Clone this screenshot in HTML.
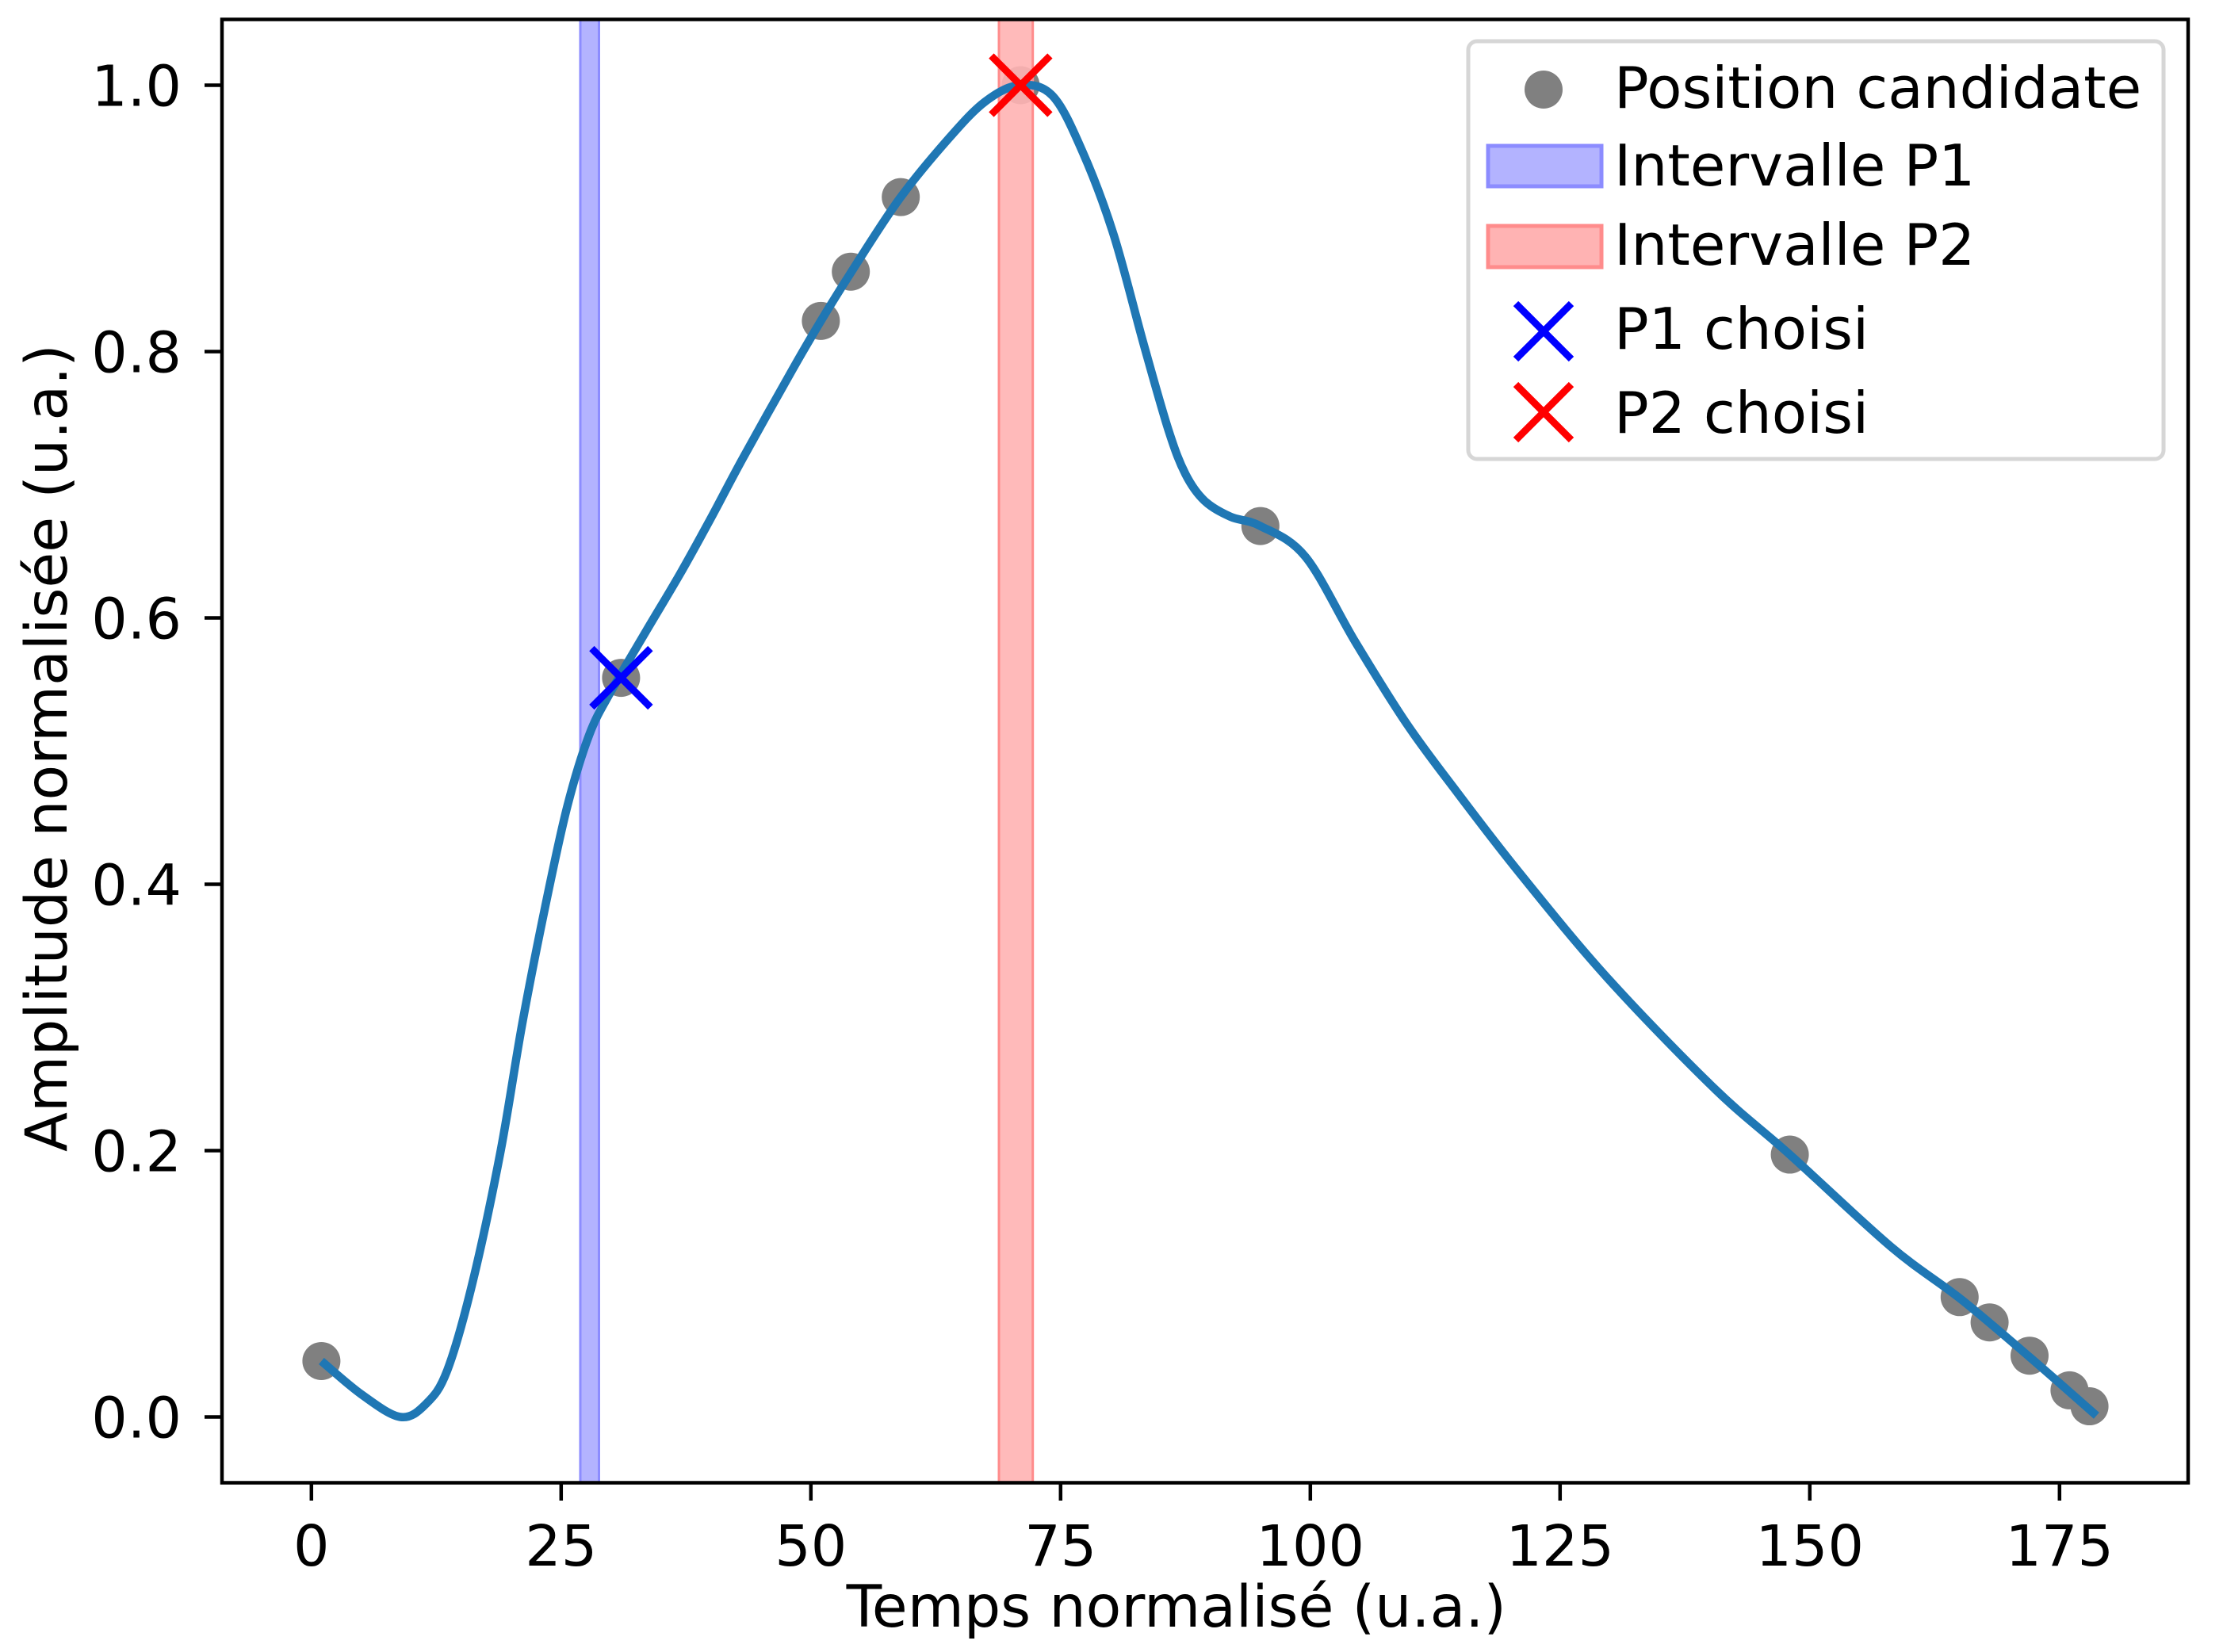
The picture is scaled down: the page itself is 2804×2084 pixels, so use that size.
<!DOCTYPE html>
<html><head><meta charset="utf-8">
<style>
html,body{margin:0;padding:0;background:#fff;}
svg{display:block;}
text{font-family:"DejaVu Sans","Liberation Sans",sans-serif;fill:#000;}
</style></head>
<body>
<svg id="s" width="2804" height="2084" viewBox="0 0 2804 2084" xmlns="http://www.w3.org/2000/svg">
<rect x="0" y="0" width="2804" height="2084" fill="#fff"/>
<g id="dots" fill="#808080"></g>
<rect x="732" y="24" width="23.5" height="1847" fill="#b3b3ff" stroke="#8c8cff" stroke-width="3"/>
<rect x="1260" y="24" width="42.7" height="1847" fill="#ffb3b3" fill-opacity="0.9" stroke="#ff8c8c" stroke-width="3"/>
<path id="curve" fill="none" stroke="#1f77b4" stroke-width="10.5" stroke-linejoin="round" stroke-linecap="butt"/>
<g id="marks"></g>
<rect x="280" y="24.5" width="2480" height="1846" fill="none" stroke="#000" stroke-width="4.5"/>
<g id="ticks" stroke="#000" stroke-width="4.5"></g>
<g id="labels" font-size="71.5"></g>
<text x="1900" y="2052" font-size="73" text-anchor="end">Temps normalisé (u.a.)</text>
<text transform="translate(84,1453) rotate(-90)" font-size="73">Amplitude normalisée (u.a.)</text>
<rect x="1852" y="52" width="877" height="527" rx="11" fill="#fff" fill-opacity="0.85" stroke="#d6d6d6" stroke-width="5"/>
<circle cx="1947" cy="113" r="24" fill="#808080"/>
<text x="2036" y="136" font-size="72.5">Position candidate</text>
<rect x="1877" y="184" width="143" height="51" fill="#b3b3ff" stroke="#8c8cff" stroke-width="5"/>
<text x="2036" y="234" font-size="72.5">Intervalle P1</text>
<rect x="1877" y="285" width="143" height="52" fill="#ffb3b3" stroke="#ff8c8c" stroke-width="5"/>
<text x="2036" y="334" font-size="72.5">Intervalle P2</text>
<path d="M1912,383 L1982,453 M1982,383 L1912,453" stroke="#0000ff" stroke-width="9"/>
<text x="2036" y="440" font-size="72.5">P1 choisi</text>
<path d="M1912,485 L1982,555 M1982,485 L1912,555" stroke="#ff0000" stroke-width="9"/>
<text x="2036" y="546" font-size="72.5">P2 choisi</text>
</svg>
<script>
var X=function(x){return 392.8+12.6*x;},Y=function(y){return 1787.5-1680*y;};
var NS="http://www.w3.org/2000/svg";
var pts=[[1,0.042],[31,0.555],[51,0.823],[54,0.86],[59,0.916],[71,1.0],[95,0.669],[148,0.197],[165,0.09],[168,0.071],[172,0.046],[176,0.02],[178,0.008]];
var g=document.getElementById('dots');
pts.forEach(function(p){var c=document.createElementNS(NS,'circle');c.setAttribute('cx',X(p[0]));c.setAttribute('cy',Y(p[1]));c.setAttribute('r',24);g.appendChild(c);});
var cp=[[1,0.042],[5,0.017],[8.9,0.0],[11.5,0.01],[13.6,0.035],[16.1,0.10],[18.9,0.198],[21.1,0.295],[23.4,0.383],[25.6,0.458],[27.8,0.512],[30,0.545],[33.5,0.59],[36.9,0.633],[40,0.675],[43.2,0.72],[48.2,0.787],[51,0.823],[53.9,0.858],[58.8,0.914],[63.8,0.96],[67.5,0.988],[70.9,1.0],[74.2,0.992],[77.2,0.95],[80.3,0.888],[83.3,0.806],[85.8,0.741],[87.5,0.708],[89.4,0.688],[92,0.676],[95,0.669],[99.5,0.646],[104.5,0.582],[109.6,0.521],[114.7,0.469],[121,0.408],[129.7,0.33],[140.4,0.247],[148,0.197],[158.1,0.128],[165.2,0.088],[172,0.045],[178.7,0.001]];
var P=cp.map(function(p){return [X(p[0]),Y(p[1])];});
var d="M"+P[0][0]+","+P[0][1];
for(var i=0;i<P.length-1;i++){var p0=P[i-1]||P[i],p1=P[i],p2=P[i+1],p3=P[i+2]||P[i+1];
d+=" C"+(p1[0]+(p2[0]-p0[0])/6)+","+(p1[1]+(p2[1]-p0[1])/6)+" "+(p2[0]-(p3[0]-p1[0])/6)+","+(p2[1]-(p3[1]-p1[1])/6)+" "+p2[0]+","+p2[1];}
document.getElementById('curve').setAttribute('d',d);
var m=document.getElementById('marks');
function cross(x,y,col){var p=document.createElementNS(NS,'path');var s=37;p.setAttribute('d','M'+(x-s)+','+(y-s)+'L'+(x+s)+','+(y+s)+'M'+(x+s)+','+(y-s)+'L'+(x-s)+','+(y+s));p.setAttribute('stroke',col);p.setAttribute('stroke-width',9);m.appendChild(p);}
cross(X(31),Y(0.555),'#0000ff');cross(X(71),Y(1.0),'#ff0000');
var t=document.getElementById('ticks'),L=document.getElementById('labels');
function line(a,b,c,e){var l=document.createElementNS(NS,'line');l.setAttribute('x1',a);l.setAttribute('y1',b);l.setAttribute('x2',c);l.setAttribute('y2',e);t.appendChild(l);}
function txt(x,y,s,anc){var e=document.createElementNS(NS,'text');e.setAttribute('x',x);e.setAttribute('y',y);e.setAttribute('text-anchor',anc);e.textContent=s;L.appendChild(e);}
[0,25,50,75,100,125,150,175].forEach(function(v){line(X(v),1871,X(v),1893);txt(X(v),1975,String(v),'middle');});
[0,0.2,0.4,0.6,0.8,1.0].forEach(function(v){line(258,Y(v),280,Y(v));txt(229,Y(v)+26,v.toFixed(1),'end');});
</script>
</body></html>
